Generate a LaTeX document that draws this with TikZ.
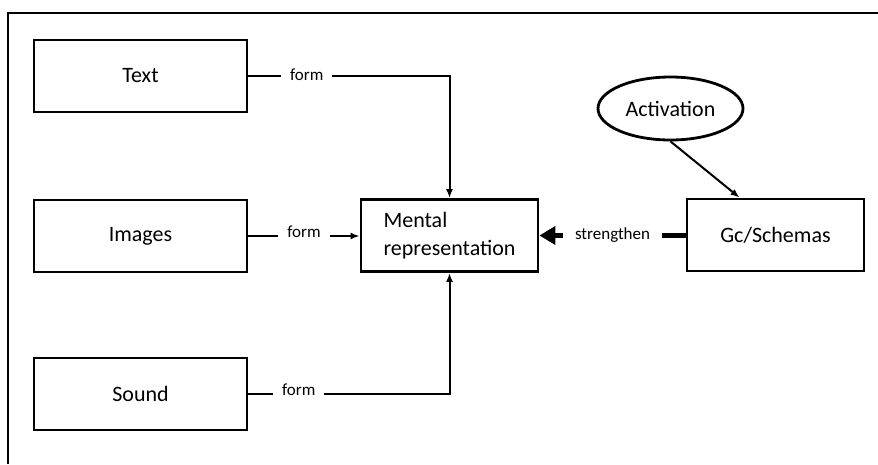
\documentclass[tikz,border=0pt]{standalone}
\usepackage{fontspec}
\setmainfont{Carlito}
\usetikzlibrary{calc}
\usetikzlibrary{shapes}
\usetikzlibrary{arrows.meta}

\begin{document}
\begin{tikzpicture}[
  x=1pt, y=-1pt,
  box/.style={
    draw,
    line width=2.8pt,
    minimum width=#1,
    minimum height=72pt,
    inner sep=0pt,
    font=\fontsize{22}{28}\selectfont},
  lbl/.style={
    fill=white,
    inner xsep=9pt,
    inner ysep=1pt,
    font=\fontsize{17}{20}\selectfont},
  link/.style={line width=2pt},
  tip/.style={-{Latex[length=9pt,width=7pt]}}]
  \useasboundingbox (0,0) rectangle (878,464);
  % outer frame (cut off at right and bottom)
  \coordinate (fnw) at (8,13);
  \coordinate (fne) at (878,13);
  \coordinate (fsw) at (8,464);
  \draw[line width=2pt] (fne) -- (fnw) -- (fsw);
  % source boxes
  \node[box=213pt] (text)   at (140.5, 76)  {Text};
  \node[box=213pt] (images) at (140.5, 236) {Images};
  \node[box=213pt] (sound)  at (140.5, 394) {Sound};
  % central and right boxes
  \node[box=177pt,align=left] (mental) at (449.5, 235.5) {Mental\\representation};
  \node[box=177pt] (gc) at (775.5, 235) {Gc/Schemas};
  \node[draw,ellipse,line width=2.8pt,minimum width=145pt,minimum height=63pt,inner sep=0pt,
        font=\fontsize{22}{28}\selectfont] (activation) at (670.5, 108.5) {Activation};
  % form links into the mental representation
  \draw[link,tip] (text.east) -- node[lbl,pos=0.29,yshift=1pt] {form} (text.east -| mental.north) -- (mental.north);
  \draw[link,tip] (images.east) -- node[lbl,pos=0.5,yshift=4pt] {form} (mental.west |- images.east);
  \draw[link,tip] (sound.east) -- node[lbl,pos=0.25,yshift=4pt] {form} (sound.east -| mental.south) -- (mental.south);
  % strengthen link
  \draw[line width=5pt,-{Triangle[length=16pt,width=18pt]}] (gc.west |- mental.east) -- node[lbl,pos=0.5,inner xsep=12pt] {strengthen} (mental.east);
  % activation link
  \draw[link,tip] (activation.south) -- ($(gc.north west)!0.3!(gc.north east)$);
\end{tikzpicture}
\end{document}
